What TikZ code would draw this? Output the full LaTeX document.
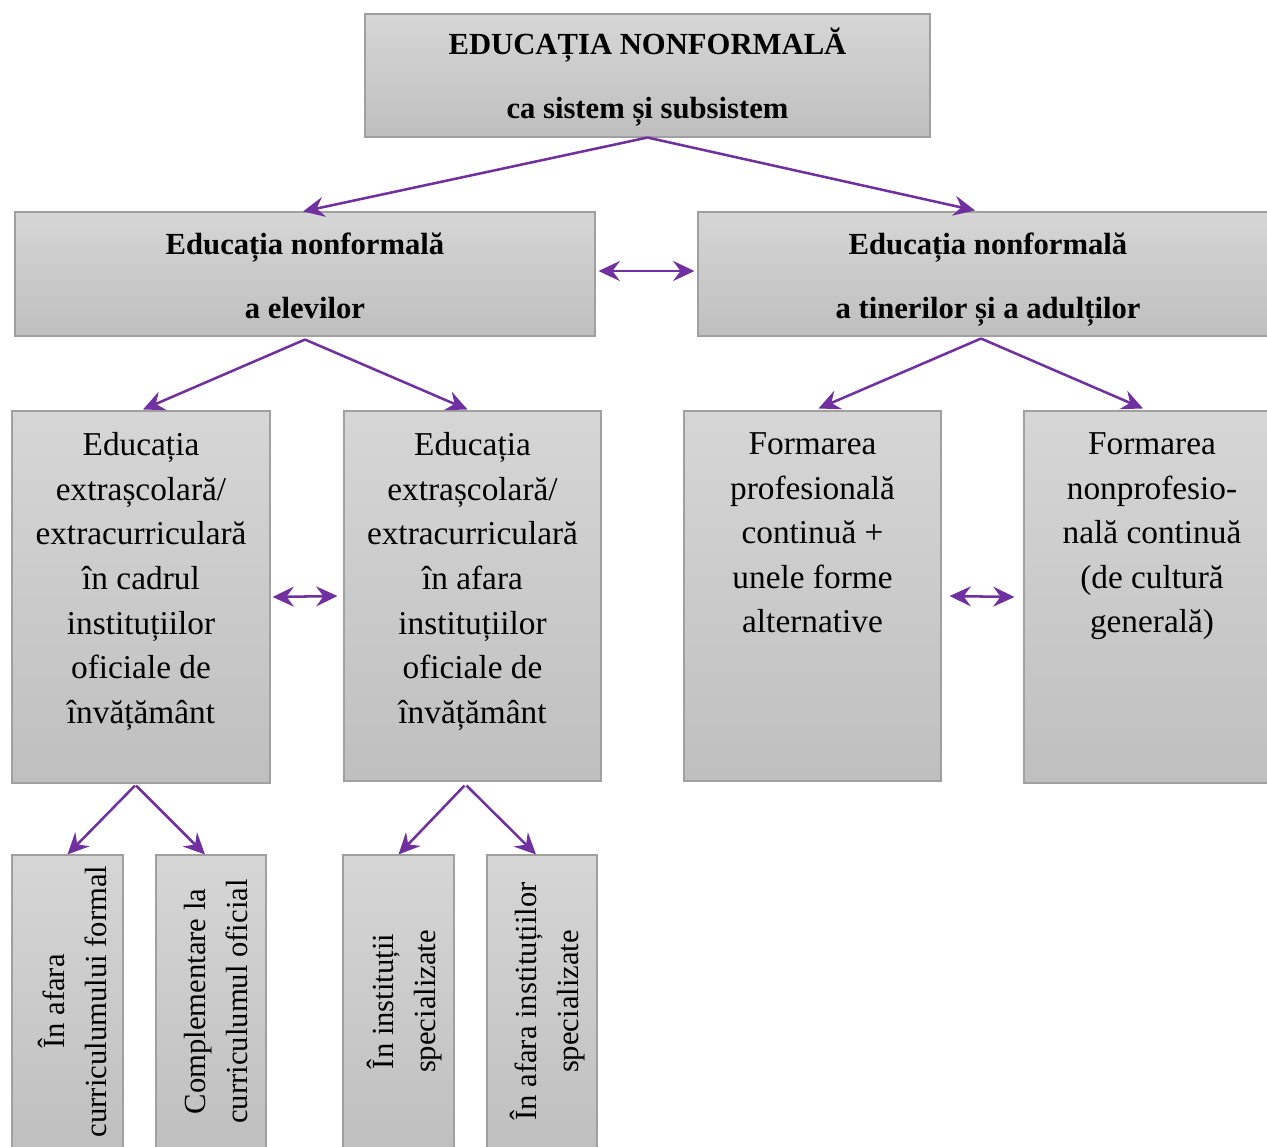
\documentclass[tikz,border=0pt]{standalone}
\usepackage{fontspec}
\setmainfont{Liberation Serif}
\usetikzlibrary{arrows.meta,fit,calc}
\definecolor{purp}{RGB}{112,48,160}
\definecolor{shtop}{RGB}{214,214,214}
\definecolor{shbot}{RGB}{191,191,191}
\definecolor{bord}{RGB}{160,160,160}
\begin{document}
\begin{tikzpicture}[x=0.75pt,y=-0.75pt,
 box/.style={draw=bord, line width=0.8pt, top color=shtop, bottom color=shbot, inner sep=0pt},
 arr/.style={draw=purp, line width=1.9pt, -{Stealth[length=16pt,width=15pt,inset=5.5pt]}},
 darr/.style={draw=purp, line width=1.9pt, {Stealth[length=16pt,width=15pt,inset=5.5pt]}-{Stealth[length=16pt,width=15pt,inset=5.5pt]}},
 btxt/.style={font=\bfseries\fontsize{23}{48}\selectfont, align=center, inner sep=0pt},
 mtxt/.style={font=\fontsize{25}{33.4}\selectfont, align=center, inner sep=0pt, anchor=north},
 rtxt/.style={font=\fontsize{23}{31.5}\selectfont, align=center, inner sep=0pt, rotate=90},
]
\useasboundingbox (0,0) rectangle (1267,1146);
% boxes
\node[box, fit={(365,14)(930,137)}] (top) {};
\node[box, fit={(15,212)(595,336)}] (l2L) {};
\node[box, fit={(698,212)(1268,336)}] (l2R) {};
\node[box, fit={(12,411)(270,783)}] (A) {};
\node[box, fit={(344,411)(601,781)}] (B) {};
\node[box, fit={(684,411)(941,781)}] (C) {};
\node[box, fit={(1024,411)(1268,783)}] (D) {};
\node[box, fit={(12,855)(123,1152)}] (a1) {};
\node[box, fit={(156,855)(266,1152)}] (a2) {};
\node[box, fit={(343,855)(454,1152)}] (b1) {};
\node[box, fit={(487,855)(597,1152)}] (b2) {};
% texts
\node[btxt] (toptxt) at ($(top.center)+(0,2)$) {EDUCAȚIA NONFORMALĂ\\ca sistem și subsistem};
\node[btxt] (l2Ltxt) at ($(l2L.center)+(0,2)$) {Educația nonformală\\a elevilor};
\node[btxt] (l2Rtxt) at ($(l2R.center)+(5,6)$) {Educația nonformală\\a tinerilor și a adulților};
\node[mtxt] (Atxt) at ($(A.north)+(0,22)$) {Educația\\extrașcolară/\\extracurriculară\\în cadrul\\instituțiilor\\oficiale de\\învățământ};
\node[mtxt] (Btxt) at ($(B.north)+(0,22)$) {Educația\\extrașcolară/\\extracurriculară\\în afara\\instituțiilor\\oficiale de\\învățământ};
\node[mtxt] (Ctxt) at ($(C.north)+(0,22)$) {Formarea\\profesională\\continuă +\\unele forme\\alternative};
\node[mtxt] (Dtxt) at ($(D.north)+(6,22)$) {Formarea\\nonprofesio-\\nală continuă\\(de cultură\\generală)};
\node[rtxt] (a1txt) at ($(a1.north)+(5,147)$) {În afara\\curriculumului formal};
\node[rtxt] (a2txt) at ($(a2.north)+(5,147)$) {Complementare la\\curriculumul oficial};
\node[rtxt] (b1txt) at ($(b1.north)+(6,147)$) {În instituții\\specializate};
\node[rtxt] (b2txt) at ($(b2.north)+(6,147)$) {În afara instituțiilor\\specializate};
% arrows
\draw[arr] (top.south) -- ($(l2L.north)+(-2,0)$);
\draw[arr] (top.south) -- ($(l2R.north)+(-8,-1)$);
\draw[darr] ($(l2L.east)+(3,-3)$) -- ($(l2R.west)+(-3,-3)$);
\draw[arr] ($(l2L.south)+(0,3)$) -- ($(A.north)+(2,-1)$);
\draw[arr] ($(l2L.south)+(0,3)$) -- ($(B.north)+(-5,-1)$);
\draw[arr] ($(l2R.south)+(-2,2)$) -- ($(C.north)+(6,-2)$);
\draw[arr] ($(l2R.south)+(-2,2)$) -- ($(D.north)+(-3,-2)$);
\draw[darr] ($(A.east)+(2,0)$) -- ($(B.west)+(-6,0)$);
\draw[darr] ($(C.east)+(8,0)$) -- ($(D.west)+(-9,0)$);
\draw[arr] ($(A.south)+(-6,2)$) -- (a1.north);
\draw[arr] ($(A.south)+(-5,2)$) -- ($(a2.north)+(-6,0)$);
\draw[arr] ($(B.south)+(-8,4)$) -- (b1.north);
\draw[arr] ($(B.south)+(-6,4)$) -- ($(b2.north)+(-6,0)$);
\end{tikzpicture}
\end{document}
